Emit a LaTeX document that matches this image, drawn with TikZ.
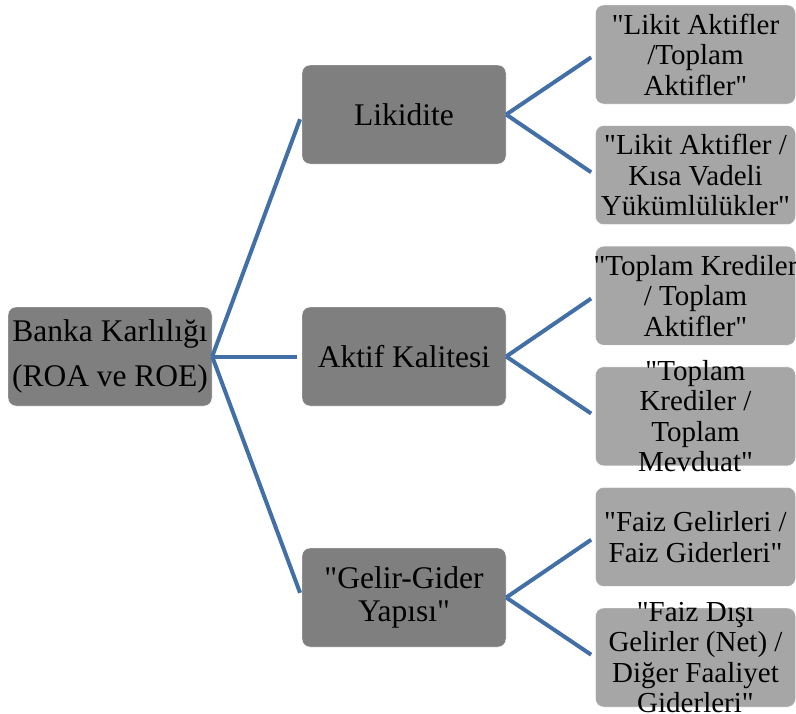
\documentclass[tikz,border=0pt]{standalone}
\usepackage{fontspec}
\setmainfont{Liberation Serif}[Ligatures=TeXOff]
\usepackage{tikz}
\definecolor{darkbox}{RGB}{127,127,127}
\definecolor{lightbox}{RGB}{166,166,166}
\definecolor{linkblue}{RGB}{66,112,166}
\tikzset{rootbox/.style={draw=white,fill=darkbox,rounded corners=8pt,inner sep=0pt,minimum width=204pt,minimum height=99pt,align=center,font=\fontsize{31.5}{45}\selectfont}}
\tikzset{midbox/.style={draw=white,fill=darkbox,rounded corners=8pt,inner sep=0pt,minimum width=204pt,minimum height=99pt,align=center,font=\fontsize{31.5}{33}\selectfont}}
\tikzset{leafbox/.style={draw=white,fill=lightbox,rounded corners=8pt,inner sep=0pt,minimum width=200pt,minimum height=99pt}}
\tikzset{leaftext/.style={inner sep=0pt,align=center,font=\fontsize{29}{30.5}\selectfont}}
\tikzset{link/.style={draw=linkblue,line width=4pt,shorten >=5pt}}

\begin{document}
\begin{tikzpicture}[x=1pt,y=-1pt]
  \useasboundingbox (0,0) rectangle (796,713);

  \node[rootbox] (root) at (110,356.5) {Banka Karlılığı\\(ROA ve ROE)};

  \node[midbox] (likidite) at (404,114.5) {Likidite};
  \node[midbox] (aktif) at (404,356.5) {Aktif Kalitesi};
  \node[midbox] (gelir) at (404,597.5) {"Gelir-Gider\\Yapısı"};

  \node[leafbox,label={[leaftext]center:{"Likit Aktifler\\/Toplam\\Aktifler"}}] (lik1) at (695.5,54.5) {};
  \node[leafbox,label={[leaftext]center:{"Likit Aktifler /\\Kısa Vadeli\\Yükümlülükler"}}] (lik2) at (695.5,175.1) {};
  \node[leafbox,label={[leaftext]center:{"Toplam Krediler\\/ Toplam\\Aktifler"}}] (akt1) at (695.5,295.7) {};
  \node[leafbox,label={[leaftext]center:{"Toplam\\Krediler /\\Toplam\\Mevduat"}}] (akt2) at (695.5,416.3) {};
  \node[leafbox,label={[leaftext]center:{"Faiz Gelirleri /\\Faiz Giderleri"}}] (gel1) at (695.5,536.9) {};
  \node[leafbox,label={[leaftext]center:{"Faiz Dışı\\Gelirler (Net) /\\Diğer Faaliyet\\Giderleri"}}] (gel2) at (695.5,657.5) {};

  \foreach \m in {likidite,aktif,gelir}
    \draw[link] (root.east) -- (\m.west);
  \foreach \m/\r in {likidite/lik1,likidite/lik2,aktif/akt1,aktif/akt2,gelir/gel1,gelir/gel2}
    \draw[link] (\m.east) -- (\r.west);
\end{tikzpicture}
\end{document}
